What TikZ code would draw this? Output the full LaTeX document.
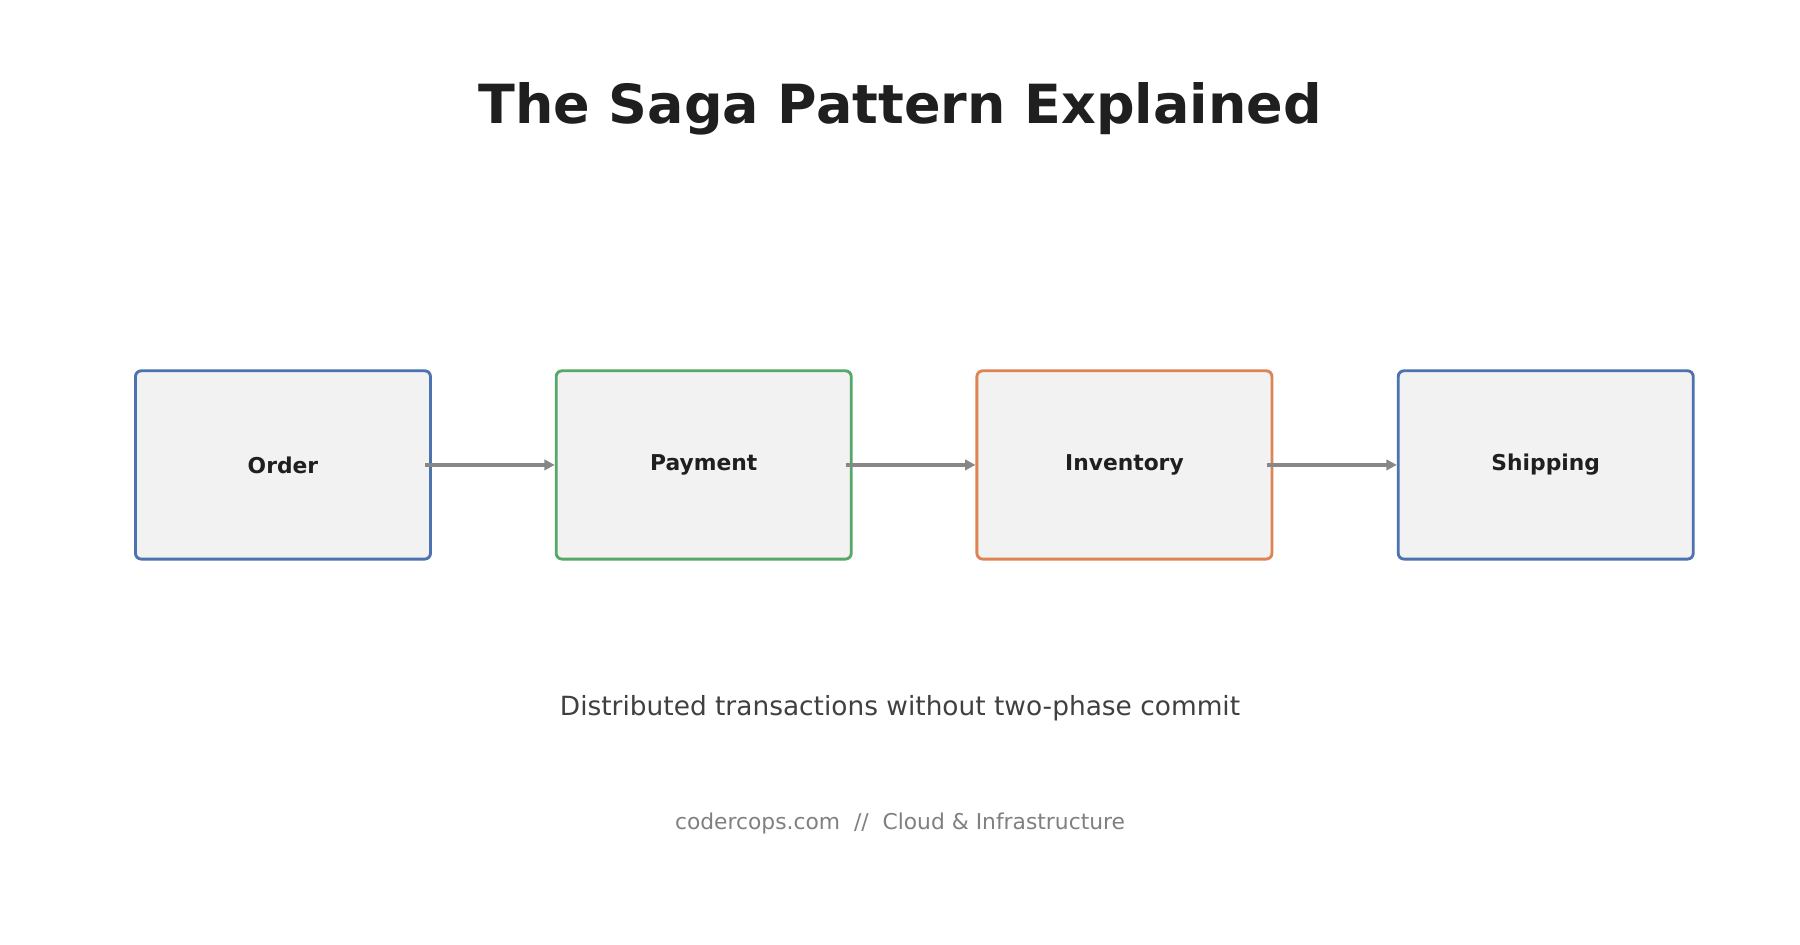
\documentclass[tikz,border=0pt]{standalone}
\usepackage{fontspec}
\setmainfont{DejaVu Sans}
\usetikzlibrary{arrows.meta}
\definecolor{cblue}{HTML}{4C72B0}
\definecolor{cgreen}{HTML}{55A868}
\definecolor{corange}{HTML}{DD8452}
\definecolor{boxfill}{HTML}{F2F2F2}
\begin{document}
\begin{tikzpicture}[x=1pt,y=-1pt,
  box/.style={draw=#1,fill=boxfill,line width=2.5pt,rounded corners=5pt,minimum width=257pt,minimum height=164pt,font=\fontsize{19}{22}\selectfont\bfseries,text=black!88},
  arr/.style={draw=black!47,line width=3pt,-{Triangle[length=9pt,width=9pt]}}]
\useasboundingbox[fill=white] (0,0) rectangle (1568,823);
\node[font=\fontsize{47}{56}\selectfont\bfseries,text=black!88] (title) at (784,95) {The Saga Pattern Explained};
\node[box=cblue] (o) at (246.5,405) {Order};
\node[box=cgreen] (p) at (613,405) {Payment};
\node[box=corange] (i) at (979.5,405) {Inventory};
\node[box=cblue] (s) at (1346.5,405) {Shipping};
\draw[arr] ([xshift=-6pt]o.east) -- (p.west);
\draw[arr] ([xshift=-6pt]p.east) -- (i.west);
\draw[arr] ([xshift=-6pt]i.east) -- (s.west);
\node[font=\fontsize{23}{28}\selectfont,text=black!75] (sub) at (784,617) {Distributed transactions without two-phase commit};
\node[font=\fontsize{19}{23}\selectfont,text=black!50] (foot) at (784,717) {codercops.com\ \ //\ \ Cloud \& Infrastructure};
\end{tikzpicture}
\end{document}
